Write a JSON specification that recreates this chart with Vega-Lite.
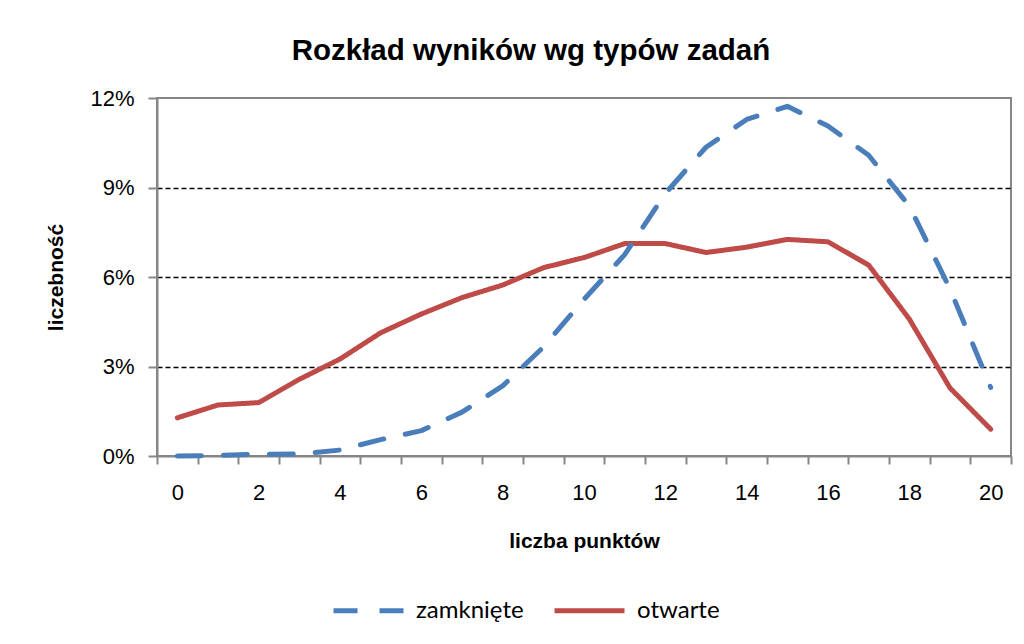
{
  "$schema": "https://vega.github.io/schema/vega-lite/v6.json",
  "width": 854,
  "height": 358,
  "padding": {"left": 45, "top": 36, "right": 14, "bottom": 10},
  "background": "white",
  "title": {
    "text": "Rozkład wyników wg typów zadań",
    "font": "Liberation Sans",
    "fontSize": 29.5,
    "fontWeight": "bold",
    "color": "black",
    "anchor": "middle",
    "dx": -53,
    "offset": 20.5
  },
  "data": {
    "values": [
      {"punkty": 0, "typ": "otwarte", "v": 0.0128},
      {"punkty": 1, "typ": "otwarte", "v": 0.0171},
      {"punkty": 2, "typ": "otwarte", "v": 0.0179},
      {"punkty": 3, "typ": "otwarte", "v": 0.0257},
      {"punkty": 4, "typ": "otwarte", "v": 0.0325},
      {"punkty": 5, "typ": "otwarte", "v": 0.0413},
      {"punkty": 6, "typ": "otwarte", "v": 0.0476},
      {"punkty": 7, "typ": "otwarte", "v": 0.0531},
      {"punkty": 8, "typ": "otwarte", "v": 0.0573},
      {"punkty": 9, "typ": "otwarte", "v": 0.0631},
      {"punkty": 10, "typ": "otwarte", "v": 0.0665},
      {"punkty": 11, "typ": "otwarte", "v": 0.0712},
      {"punkty": 12, "typ": "otwarte", "v": 0.0712},
      {"punkty": 13, "typ": "otwarte", "v": 0.0682},
      {"punkty": 14, "typ": "otwarte", "v": 0.0700},
      {"punkty": 15, "typ": "otwarte", "v": 0.0726},
      {"punkty": 16, "typ": "otwarte", "v": 0.0718},
      {"punkty": 17, "typ": "otwarte", "v": 0.0640},
      {"punkty": 18, "typ": "otwarte", "v": 0.0459},
      {"punkty": 19, "typ": "otwarte", "v": 0.0228},
      {"punkty": 20, "typ": "otwarte", "v": 0.0090},
      {"punkty": 0, "typ": "zamknięte", "v": 0.0000},
      {"punkty": 1, "typ": "zamknięte", "v": 0.0002},
      {"punkty": 2, "typ": "zamknięte", "v": 0.0006},
      {"punkty": 3, "typ": "zamknięte", "v": 0.0007},
      {"punkty": 4, "typ": "zamknięte", "v": 0.0020},
      {"punkty": 5, "typ": "zamknięte", "v": 0.0055},
      {"punkty": 6, "typ": "zamknięte", "v": 0.0085},
      {"punkty": 7, "typ": "zamknięte", "v": 0.0147},
      {"punkty": 8, "typ": "zamknięte", "v": 0.0235},
      {"punkty": 9, "typ": "zamknięte", "v": 0.0365},
      {"punkty": 10, "typ": "zamknięte", "v": 0.0525},
      {"punkty": 11, "typ": "zamknięte", "v": 0.0675},
      {"punkty": 12, "typ": "zamknięte", "v": 0.0880},
      {"punkty": 13, "typ": "zamknięte", "v": 0.1035},
      {"punkty": 14, "typ": "zamknięte", "v": 0.1128},
      {"punkty": 15, "typ": "zamknięte", "v": 0.1172},
      {"punkty": 16, "typ": "zamknięte", "v": 0.1106},
      {"punkty": 17, "typ": "zamknięte", "v": 0.1008},
      {"punkty": 18, "typ": "zamknięte", "v": 0.0838},
      {"punkty": 19, "typ": "zamknięte", "v": 0.0560},
      {"punkty": 20, "typ": "zamknięte", "v": 0.0230}
    ]
  },
  "mark": {"type": "line", "strokeWidth": 5, "strokeCap": "round", "strokeJoin": "round"},
  "encoding": {
    "x": {
      "field": "punkty",
      "type": "quantitative",
      "scale": {"domain": [-0.5, 20.5], "nice": false, "zero": false},
      "axis": {
        "title": "liczba punktów",
        "values": [-0.5, 0.5, 1.5, 2.5, 3.5, 4.5, 5.5, 6.5, 7.5, 8.5, 9.5, 10.5, 11.5, 12.5, 13.5, 14.5, 15.5, 16.5, 17.5, 18.5, 19.5, 20.5],
        "labelExpr": "(datum.value + 0.5) % 2 == 0 && datum.value < 20 ? format(datum.value + 0.5, 'd') : ''",
        "labelOffset": 20.33,
        "labelOverlap": false,
        "labelBound": false,
        "labelFlush": false,
        "grid": false,
        "tickSize": 8,
        "labelPadding": 18,
        "titlePadding": 27
      }
    },
    "y": {
      "field": "v",
      "type": "quantitative",
      "scale": {"domain": [0, 0.12], "nice": false},
      "axis": {
        "title": "liczebność",
        "values": [0, 0.03, 0.06, 0.09, 0.12],
        "format": ".0%",
        "tickSize": 9,
        "labelPadding": 14,
        "titlePadding": 23,
        "grid": true,
        "gridColor": "black",
        "gridDash": [5, 3],
        "gridWidth": 1.3,
        "gridOpacity": {"condition": {"test": "datum.value == 0 || datum.value >= 0.119", "value": 0}, "value": 1}
      }
    },
    "color": {
      "field": "typ",
      "type": "nominal",
      "scale": {"domain": ["zamknięte", "otwarte"], "range": ["#4A7EBB", "#BE4B48"]},
      "legend": {
        "title": null,
        "orient": "none",
        "direction": "horizontal",
        "legendX": 174,
        "legendY": 475,
        "symbolType": "stroke",
        "symbolSize": 4900,
        "symbolStrokeWidth": 5,
        "labelFont": "Lato",
        "labelFontSize": 24,
        "labelColor": "black",
        "labelOffset": 10,
        "columnPadding": 20,
        "encode": {
          "symbols": {
            "enter": {
              "strokeDash": {"signal": "datum.index === 0 ? [15, 12] : [1, 0]"}
            },
            "update": {
              "strokeDash": {"signal": "datum.index === 0 ? [15, 12] : [1, 0]"}
            }
          }
        }
      }
    },
    "strokeDash": {
      "field": "typ",
      "type": "nominal",
      "scale": {"domain": ["zamknięte", "otwarte"], "range": [[24, 22], [1, 0]]},
      "legend": null
    }
  },
  "config": {
    "view": {"stroke": "#868686", "strokeWidth": 2},
    "axis": {
      "domainColor": "#868686",
      "domainWidth": 2,
      "tickColor": "#868686",
      "tickWidth": 2,
      "labelFont": "Liberation Sans",
      "labelFontSize": 22,
      "labelColor": "black",
      "titleFont": "Liberation Sans",
      "titleFontSize": 21,
      "titleFontWeight": "bold",
      "titleColor": "black"
    }
  }
}
